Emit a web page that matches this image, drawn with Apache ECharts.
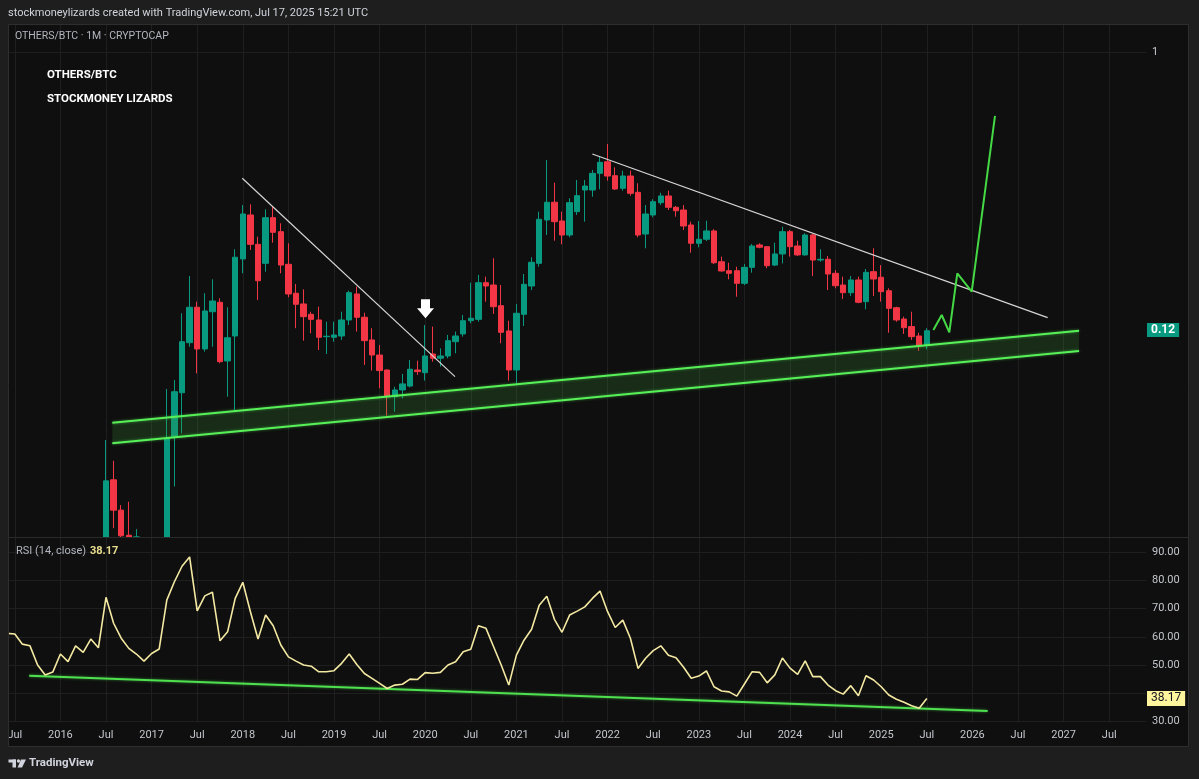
<!DOCTYPE html>
<html>
<head>
<meta charset="utf-8">
<script src="https://cdn.jsdelivr.net/npm/echarts@6/dist/echarts.min.js"></script>
<style>
html,body{margin:0;padding:0;background:#1e1e1e;}
#c{width:1199px;height:779px;}
</style>
</head>
<body>
<div id="c"></div>
<script>
// Month index: 0 = Jul 2015 (monthly candles)
const xMin = -0.895;
const xMax = 148.84;
const xTickMonths = [0,6,12,18,24,30,36,42,48,54,60,66,72,78,84,90,96,102,108,114,120,126,132,138,144];
const xTickLabels = ['Jul','2016','Jul','2017','Jul','2018','Jul','2019','Jul','2020','Jul','2021','Jul','2022','Jul','2023','Jul','2024','Jul','2025','Jul','2026','Jul','2027','Jul'];

// OTHERS/BTC monthly OHLC, starting Jul 2016 (month 12); null = below visible range
const candleStartMonth = 12;
const candleOpen = [
  0.0235,0.0383,0.0304,0.0251,0.0240,null,null,null,0.0235,0.0532,
  0.0744,0.1090,0.1428,0.1039,0.1380,0.1483,0.0948,0.1147,0.2064,0.2886,
  0.2307,0.1996,0.2827,0.2541,0.1981,0.1589,0.1464,0.1353,0.1296,0.1141,
  0.1136,0.1147,0.1296,0.1580,0.1323,0.1113,0.0992,0.0885,0.0722,0.0760,
  0.0783,0.0885,0.0867,0.1000,0.0968,0.0985,0.1098,0.1165,0.1289,0.1302,
  0.1722,0.1692,0.1445,0.1192,0.0885,0.1353,0.1679,0.1996,0.2778,0.3180,
  0.2757,0.2477,0.2960,0.3491,0.3491,0.3965,0.4331,0.3893,0.3537,0.3884,
  0.3430,0.2496,0.2886,0.3170,0.3336,0.3060,0.2997,0.2674,0.2326,0.2398,
  0.2555,0.2020,0.1887,0.1887,0.1714,0.1936,0.2296,0.2266,0.1970,0.2144,
  0.2541,0.2278,0.2128,0.2477,0.2047,0.2059,0.1850,0.1692,0.1596,0.1758,
  0.1490,0.1873,0.1795,0.1620,0.1423,0.1305,0.1232,0.1147,0.1071
];
const candleClose = [
  0.0380,0.0304,0.0250,0.0243,0.0232,null,null,null,0.0526,0.0750,
  0.1098,0.1428,0.1039,0.1388,0.1498,0.0943,0.1132,0.2091,0.2908,0.2307,
  0.1748,0.2827,0.2529,0.1970,0.1580,0.1461,0.1329,0.1302,0.1136,0.1145,
  0.1156,0.1296,0.1596,0.1323,0.1107,0.0992,0.0881,0.0722,0.0760,0.0796,
  0.0890,0.0874,0.0985,0.0968,0.0985,0.1107,0.1147,0.1289,0.1313,0.1722,
  0.1679,0.1434,0.1180,0.0885,0.1364,0.1701,0.2012,0.2793,0.3180,0.2742,
  0.2477,0.3170,0.3344,0.3599,0.3965,0.4311,0.3884,0.3518,0.3884,0.3404,
  0.2477,0.2908,0.3194,0.3336,0.3060,0.2981,0.2653,0.2326,0.2398,0.2555,
  0.2005,0.1883,0.1850,0.1714,0.1936,0.2278,0.2256,0.1960,0.2144,0.2541,
  0.2266,0.2128,0.2477,0.2047,0.2059,0.1840,0.1683,0.1596,0.1758,0.1483,
  0.1864,0.1771,0.1608,0.1416,0.1296,0.1222,0.1141,0.1063,0.1194
];
const candleLow = [
  0.0220,0.0265,0.0245,0.0230,0.0220,null,null,null,0.0220,0.0364,
  0.0546,0.1057,0.0863,0.1018,0.1057,0.0932,0.0722,0.0644,0.1850,0.2210,
  0.1510,0.1873,0.2336,0.1850,0.1541,0.1217,0.1107,0.1171,0.1031,0.1000,
  0.1098,0.1113,0.1247,0.1186,0.0920,0.0881,0.0770,0.0625,0.0644,0.0713,
  0.0775,0.0852,0.0816,0.0943,0.0908,0.0968,0.1005,0.1141,0.1264,0.1279,
  0.1490,0.1357,0.1085,0.0816,0.0800,0.1238,0.1628,0.1945,0.2477,0.2372,
  0.2307,0.2434,0.2886,0.2742,0.3318,0.3510,0.3749,0.3491,0.3473,0.3344,
  0.2434,0.2239,0.2836,0.3113,0.2997,0.2849,0.2574,0.2165,0.2256,0.2367,
  0.1986,0.1873,0.1767,0.1548,0.1692,0.1859,0.2239,0.1922,0.1956,0.1996,
  0.2101,0.2112,0.2116,0.1812,0.2020,0.1628,0.1650,0.1521,0.1556,0.1472,
  0.1406,0.1556,0.1490,0.1176,0.1279,0.1165,0.1113,0.1023,0.1036
];
const candleHigh = [
  0.0519,0.0443,0.0316,0.0324,0.0263,null,null,null,0.0766,0.0820,
  0.1364,0.1812,0.1490,0.1589,0.1767,0.1529,0.1428,0.2222,0.3113,0.3130,
  0.2445,0.3013,0.3073,0.2709,0.2326,0.1705,0.1637,0.1380,0.1434,0.1279,
  0.1279,0.1380,0.1620,0.1670,0.1370,0.1217,0.1071,0.0888,0.0779,0.0859,
  0.0955,0.0950,0.1247,0.1232,0.1044,0.1156,0.1186,0.1346,0.1722,0.1827,
  0.1803,0.2075,0.1692,0.1289,0.1464,0.1840,0.2091,0.2960,0.4387,0.3692,
  0.2960,0.3278,0.3770,0.3770,0.4067,0.4523,0.4958,0.4151,0.4046,0.4046,
  0.3675,0.3113,0.3253,0.3420,0.3473,0.3090,0.3113,0.2742,0.2755,0.2763,
  0.2588,0.2101,0.2005,0.1945,0.1986,0.2312,0.2326,0.2275,0.2336,0.2639,
  0.2574,0.2372,0.2510,0.2496,0.2222,0.2112,0.1897,0.1803,0.1812,0.1803,
  0.1912,0.2239,0.1970,0.1650,0.1434,0.1329,0.1380,0.1176,0.1217
];

// RSI(14, close), starting Jun 2015 (month -1)
const rsiStartMonth = -1;
const rsiValues = [
  61.2,61.0,57.4,56.8,50.0,46.5,47.5,53.9,51.2,56.8,
  54.5,59.2,56.1,74.0,64.8,59.5,55.9,53.9,51.4,54.1,
  55.7,73.0,79.5,85.0,88.3,69.2,74.5,75.8,58.6,61.8,
  73.6,79.3,68.9,59.2,67.7,63.9,57.1,52.9,51.4,50.0,
  49.6,47.6,47.6,48.0,50.6,53.9,50.2,47.0,45.3,43.5,
  41.7,42.9,43.2,45.0,44.9,47.3,47.1,47.4,50.0,51.2,
  54.7,55.6,63.9,63.0,56.5,50.0,42.9,53.5,58.8,62.7,
  71.2,74.4,66.2,61.6,67.7,69.1,70.6,73.6,76.2,68.9,
  63.3,65.9,59.5,48.8,52.4,55.1,56.8,53.5,52.6,49.2,
  45.3,46.1,47.9,42.3,40.8,40.5,39.0,43.3,47.6,47.4,
  43.7,46.5,52.5,48.9,46.7,51.5,45.9,45.9,42.9,40.9,
  39.7,42.7,39.1,46.2,44.7,42.3,39.4,37.9,36.8,35.6,
  34.7,38.17
];
const rsiGridTicks = [30,40,50,60,70,80,90];
const rsiLabelTicks = [30,50,60,70,80,90]; // 40.00 sits behind the current-value tag

// Drawings (month index, value)
const trendLineA = [[29.93, 0.3818], [57.92, 0.0841]];
const trendLineB = [[75.99, 0.4595], [135.9, 0.1319]];
const channelUpper = [[12.83, 0.0592], [140.03, 0.1194]];
const channelLower = [[12.83, 0.0506], [140.03, 0.1023]];
const projectionPath = [[120.86,0.1201],[121.96,0.1346],[122.96,0.1180],[124.01,0.1850],[125.91,0.1608],[128.97,0.6139]];
const arrowMark = [[54.04, 0.1412]];
const rsiTrend = [[1.9, 46.2], [128.0, 33.7]];

const priceMin = 0.02477;
const priceMax = 1.2285;

// ---- build ----
// candle parts below the price pane are cut at the pane edge (as in the reference)
const atPane = v => Math.max(v, priceMin);
const candleData = [];
candleOpen.forEach((o, i) => {
  if (o == null) return;
  candleData.push([candleStartMonth + i, atPane(o), atPane(candleClose[i]), atPane(candleLow[i]), atPane(candleHigh[i])]);
});
const rsiData = rsiValues.map((v, i) => [rsiStartMonth + i, v]);
const lastClose = candleClose[candleClose.length - 1];
const lastRsi = rsiValues[rsiValues.length - 1];

const FONT = 'Roboto, "Noto Sans", sans-serif';
const gridColor = '#1f1f1f';
const axisTextColor = '#c3c6cc';
const UP = '#089981', DOWN = '#f23645';
const GREEN = '#58f058';

const chart = echarts.init(document.getElementById('c'), null, {renderer: 'canvas'});
const option = {
  backgroundColor: '#0f0f0f',
  animation: false,
  tooltip: {show: false},
  grid: [
    {left: 8, right: 53, top: 25, height: 512},
    {left: 8, right: 53, top: 538, height: 183.5}
  ],
  xAxis: [
    {
      type: 'value', gridIndex: 0, min: xMin, max: xMax,
      axisLine: {show: false},
      axisTick: {show: false, customValues: xTickMonths},
      axisLabel: {show: false, customValues: xTickMonths},
      splitLine: {show: true, lineStyle: {color: gridColor, width: 1}}
    },
    {
      type: 'value', gridIndex: 1, min: xMin, max: xMax,
      axisLine: {show: false},
      axisTick: {show: false, customValues: xTickMonths},
      axisLabel: {
        show: true, customValues: xTickMonths, margin: 8,
        color: axisTextColor, fontSize: 11, fontFamily: FONT,
        formatter: v => xTickLabels[xTickMonths.indexOf(Math.round(v))] || ''
      },
      splitLine: {show: true, lineStyle: {color: gridColor, width: 1}}
    }
  ],
  yAxis: [
    {
      type: 'log', logBase: 10, gridIndex: 0, position: 'right',
      min: priceMin, max: priceMax,
      axisLine: {show: false},
      axisTick: {show: false, customValues: [1]},
      axisLabel: {customValues: [1], formatter: () => '1', color: axisTextColor, fontSize: 11, fontFamily: FONT, margin: 6},
      splitLine: {show: true, lineStyle: {color: gridColor, width: 1}}
    },
    {
      type: 'value', gridIndex: 1, position: 'right', min: 30, max: 95,
      axisLine: {show: false},
      axisTick: {show: false, customValues: rsiGridTicks},
      axisLabel: {customValues: rsiLabelTicks, formatter: v => Number(v).toFixed(2), color: axisTextColor, fontSize: 11, fontFamily: FONT, margin: 6},
      splitLine: {show: true, lineStyle: {color: gridColor, width: 1}}
    }
  ],
  series: [
    {
      type: 'candlestick', xAxisIndex: 0, yAxisIndex: 0, silent: true, z: 2,
      clip: true,
      barWidth: 6,
      data: candleData,
      itemStyle: {color: UP, color0: DOWN, borderColor: UP, borderColor0: DOWN, borderWidth: 1},
      markLine: {
        silent: true, symbol: ['none', 'none'],
        lineStyle: {color: 'rgba(0,0,0,0)', width: 0, type: 'solid'},
        data: [{yAxis: lastClose}],
        label: {
          show: true, position: 'end', distance: 1,
          formatter: p => Number(p.value).toFixed(2),
          color: '#ffffff', backgroundColor: UP, fontWeight: 'bold',
          fontSize: 12, fontFamily: FONT, lineHeight: 12, padding: [1, 4, 1, 4], opacity: 1
        }
      }
    },
    {
      type: 'custom', xAxisIndex: 0, yAxisIndex: 0, silent: true, z: 3,
      data: [[channelLower[0][0], channelLower[0][1], channelUpper[0][1], channelLower[1][0], channelLower[1][1], channelUpper[1][1]]],
      encode: {x: [0, 3], y: [1, 2, 4, 5]},
      renderItem: (params, api) => {
        const a = api.coord([api.value(0), api.value(2)]);
        const b = api.coord([api.value(3), api.value(5)]);
        const c = api.coord([api.value(3), api.value(4)]);
        const d = api.coord([api.value(0), api.value(1)]);
        return {type: 'polygon', shape: {points: [a, b, c, d]}, style: {fill: 'rgba(60,150,60,0.22)'}};
      }
    },
    {
      type: 'line', xAxisIndex: 0, yAxisIndex: 0, silent: true, z: 4, symbol: 'none',
      data: channelUpper,
      lineStyle: {color: GREEN, width: 2, shadowColor: 'rgba(88,240,88,0.5)', shadowBlur: 3}
    },
    {
      type: 'line', xAxisIndex: 0, yAxisIndex: 0, silent: true, z: 4, symbol: 'none',
      data: channelLower,
      lineStyle: {color: GREEN, width: 2, shadowColor: 'rgba(88,240,88,0.5)', shadowBlur: 3}
    },
    {
      type: 'line', xAxisIndex: 0, yAxisIndex: 0, silent: true, z: 4, symbol: 'none',
      data: trendLineA,
      lineStyle: {color: '#d6d6d6', width: 1.2}
    },
    {
      type: 'line', xAxisIndex: 0, yAxisIndex: 0, silent: true, z: 4, symbol: 'none',
      data: trendLineB,
      lineStyle: {color: '#d6d6d6', width: 1.2}
    },
    {
      type: 'line', xAxisIndex: 0, yAxisIndex: 0, silent: true, z: 5, symbol: 'none',
      data: projectionPath,
      lineStyle: {color: '#45d845', width: 2}
    },
    {
      type: 'scatter', xAxisIndex: 0, yAxisIndex: 0, silent: true, z: 5,
      data: arrowMark,
      symbol: 'path://M4,0L13,0L13,9L17,9L8.5,19L0,9L4,9Z',
      symbolSize: [17, 19],
      itemStyle: {color: '#ffffff', opacity: 1}
    },
    {
      type: 'line', xAxisIndex: 1, yAxisIndex: 1, silent: true, z: 4, symbol: 'none',
      data: rsiTrend,
      lineStyle: {color: '#4fe04f', width: 2, shadowColor: 'rgba(80,224,80,0.5)', shadowBlur: 3}
    },
    {
      type: 'line', xAxisIndex: 1, yAxisIndex: 1, silent: true, z: 5, symbol: 'none',
      data: rsiData,
      lineStyle: {color: '#f4e9a2', width: 1.6},
      markLine: {
        silent: true, symbol: ['none', 'none'],
        lineStyle: {color: 'rgba(0,0,0,0)', width: 0, type: 'solid'},
        data: [{yAxis: lastRsi}],
        label: {
          show: true, position: 'end', distance: 1,
          formatter: p => Number(p.value).toFixed(2),
          color: '#131722', backgroundColor: '#fff59d',
          fontSize: 12, fontFamily: FONT, lineHeight: 13, padding: [1, 4, 1, 4], opacity: 1
        }
      }
    }
  ],
  graphic: {
    elements: [
      {type: 'rect', z: 100, silent: true, shape: {x: 0, y: 0, width: 1199, height: 24}, style: {fill: '#1e1e1e'}},
      {type: 'rect', z: 100, silent: true, shape: {x: 0, y: 747, width: 1199, height: 32}, style: {fill: '#1e1e1e'}},
      {type: 'rect', z: 100, silent: true, shape: {x: 0, y: 0, width: 8, height: 779}, style: {fill: '#1e1e1e'}},
      {type: 'rect', z: 100, silent: true, shape: {x: 1189, y: 0, width: 10, height: 779}, style: {fill: '#1e1e1e'}},
      {type: 'rect', z: 101, silent: true, shape: {x: 8.5, y: 24.5, width: 1180, height: 722}, style: {fill: 'none', stroke: '#2e2e2e', lineWidth: 1}},
      {type: 'line', z: 101, silent: true, shape: {x1: 8, y1: 537.5, x2: 1189, y2: 537.5}, style: {stroke: '#2a2a2a', lineWidth: 1}},
      {type: 'text', z: 102, silent: true, style: {text: 'stockmoneylizards created with TradingView.com, Jul 17, 2025 15:21 UTC', x: 8, y: 13, fill: '#d1d4dc', fontSize: 11, fontFamily: FONT, verticalAlign: 'middle'}},
      {type: 'text', z: 102, silent: true, style: {text: 'OTHERS/BTC · 1M · CRYPTOCAP', x: 15, y: 36, fill: '#b2b5be', fontSize: 10.5, fontFamily: FONT, verticalAlign: 'middle'}},
      {type: 'text', z: 102, silent: true, style: {text: 'OTHERS/BTC', x: 47, y: 75, fill: '#ffffff', fontSize: 11.5, fontWeight: 'bold', fontFamily: FONT, verticalAlign: 'middle'}},
      {type: 'text', z: 102, silent: true, style: {text: 'STOCKMONEY LIZARDS', x: 47, y: 99.5, fill: '#ffffff', fontSize: 11.5, fontWeight: 'bold', fontFamily: FONT, verticalAlign: 'middle'}},
      {type: 'text', z: 102, silent: true, style: {text: 'RSI (14, close)', x: 16, y: 551.5, fill: '#b2b5be', fontSize: 11, fontFamily: FONT, verticalAlign: 'middle'}},
      {type: 'text', z: 102, silent: true, style: {text: lastRsi.toFixed(2), x: 90, y: 551.5, fill: '#eadf90', fontSize: 11, fontWeight: 'bold', fontFamily: FONT, verticalAlign: 'middle'}},
      // TradingView logo
      {type: 'rect', z: 102, silent: true, shape: {x: 8.5, y: 759.5, width: 7.5, height: 3}, style: {fill: '#d1d4dc'}},
      {type: 'rect', z: 102, silent: true, shape: {x: 12.5, y: 759.5, width: 3.5, height: 8}, style: {fill: '#d1d4dc'}},
      {type: 'circle', z: 102, silent: true, shape: {cx: 18.5, cy: 761, r: 1.7}, style: {fill: '#d1d4dc'}},
      {type: 'polygon', z: 102, silent: true, shape: {points: [[21, 759.5], [26, 759.5], [22, 767.5], [17.5, 767.5]]}, style: {fill: '#d1d4dc'}},
      {type: 'text', z: 102, silent: true, style: {text: 'TradingView', x: 29, y: 763.5, fill: '#d1d4dc', fontSize: 11.5, fontWeight: 'bold', fontFamily: FONT, verticalAlign: 'middle'}}
    ]
  }
};
chart.setOption(option);
</script>
</body>
</html>
